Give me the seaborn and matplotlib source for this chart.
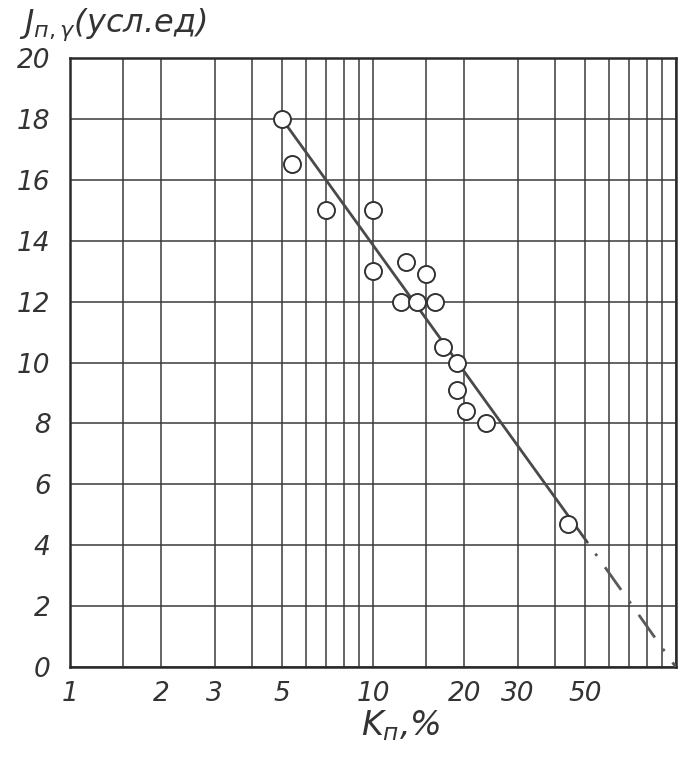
import numpy as np
import pandas as pd
import seaborn as sns
import matplotlib.pyplot as plt

# Kп, % (log scale) and Jп,γ values
k_vals = [5.0, 5.4, 7.0, 10.0, 10.0, 12.8, 15.0, 12.4, 14.0, 16.0, 17.0, 19.0, 19.0, 20.3, 23.6, 44.0]
j_vals = [18.0, 16.5, 15.0, 15.0, 13.0, 13.3, 12.9, 12.0, 12.0, 12.0, 10.5, 10.0, 9.1, 8.4, 8.0, 4.7]

# fitted line (solid part) and its extrapolation (dash-dot)
fit_k = [5.0, 51.0]
fit_j = [18.0, 4.1]
ext_k = [51.0, 100.0]
ext_j = [4.1, 0.0]

grid_x = [1, 1.5, 2, 3, 4, 5, 6, 7, 8, 9, 10, 15, 20, 30, 40, 50, 60, 70, 80, 90, 100]
x_labels = {1: '1', 2: '2', 3: '3', 5: '5', 10: '10', 20: '20', 30: '30', 50: '50'}
y_ticks = [0, 2, 4, 6, 8, 10, 12, 14, 16, 18, 20]

df = pd.DataFrame({'k': k_vals, 'j': j_vals})

sns.set_style('white')
plt.rcParams['font.family'] = ['DejaVu Sans']

fig = plt.figure(figsize=(6.94, 7.6), dpi=100)
ax = fig.add_axes([0.101, 0.122, 0.873, 0.802])

ink = '#3a3a3a'

sns.lineplot(x=fit_k, y=fit_j, ax=ax, color='#4a4a4a', linewidth=2.0, zorder=3)
sns.lineplot(x=ext_k, y=ext_j, ax=ax, color='#5a5a5a', linewidth=2.0,
             linestyle=(10, (10, 5, 1, 5)), zorder=3)
sns.scatterplot(data=df, x='k', y='j', ax=ax, s=150, marker='o',
                facecolor='white', edgecolor='#333333', linewidth=1.4, zorder=4)

ax.set_xscale('log')
ax.set_xlim(1, 100)
ax.set_ylim(0, 20)

ax.set_xticks(grid_x)
ax.set_xticklabels([x_labels.get(v, '') for v in grid_x])
ax.xaxis.set_minor_locator(plt.NullLocator())
ax.set_yticks(y_ticks)
ax.set_yticklabels([str(v) for v in y_ticks])

ax.grid(True, color=ink, linewidth=1.1)
ax.set_axisbelow(True)
for s in ax.spines.values():
    s.set_visible(True)
    s.set_color('#2a2a2a')
    s.set_linewidth(1.8)

ax.tick_params(length=0, labelsize=19, colors='#333333', pad=10)
ax.yaxis.set_tick_params(pad=14)
for t in ax.get_xticklabels() + ax.get_yticklabels():
    t.set_fontstyle('italic')

ax.set_xlabel('')
ax.set_ylabel('')

fig.text(0.028, 0.968, r'$J_{п,γ}$(усл.ед)', fontsize=23, color='#333333', style='italic', va='center')
fig.text(0.52, 0.045, r'$K_{п}$,%', fontsize=24, color='#333333', style='italic', va='center', ha='left')

fig.savefig('out.png', dpi=100)
